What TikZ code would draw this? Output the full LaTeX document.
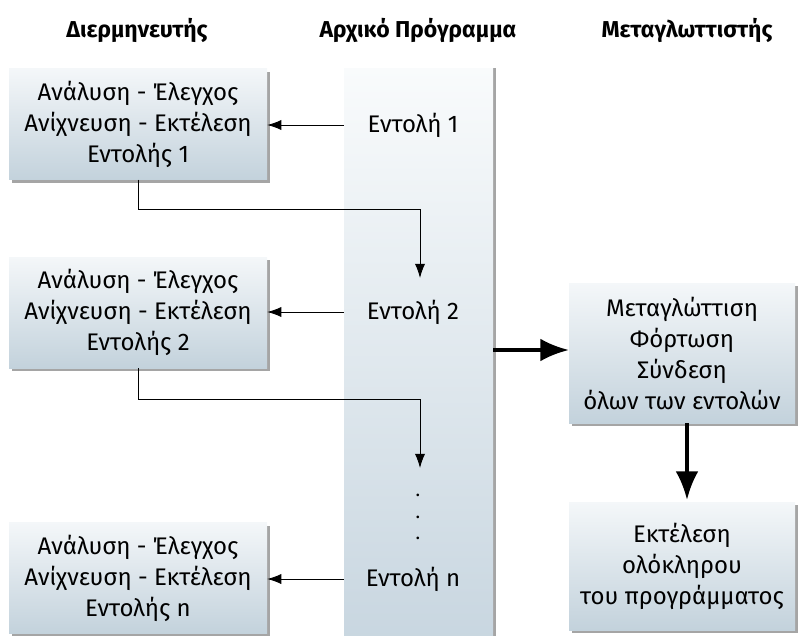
\documentclass[tikz,border=0pt]{standalone}
\usepackage{fontspec}
\setmainfont{Fira Sans}
\usepackage{tikz}
\usetikzlibrary{arrows.meta,positioning,calc,shadows}
\definecolor{boxtop}{HTML}{F4F7F9}
\definecolor{boxbot}{HTML}{C3D2DC}
\definecolor{coltop}{HTML}{F9FBFC}
\definecolor{colbot}{HTML}{C8D6E0}
\tikzset{%
  arrow/.style={-{Latex[length=5mm,width=3.6mm]}, line width=0.9pt},
  bigarrow/.style={-{Latex[length=10mm,width=8mm]}, line width=3.5pt}%
}

\begin{document}
\begin{tikzpicture}[
    x=1pt, y=-1pt,
    font=\fontsize{24}{31}\selectfont,
    title/.style={
        font=\fontsize{23}{26}\selectfont\bfseries,
        inner sep=0pt
    },
    stepbox/.style={
        rounded corners=0pt,
        align=center,
        minimum width=258pt,
        minimum height=111pt,
        inner sep=0pt,
        top color=boxtop,
        bottom color=boxbot,
        drop shadow={shadow xshift=3pt, shadow yshift=-3pt, opacity=.5, fill=black!70}
    },
    column/.style={
        minimum width=149pt,
        minimum height=575pt,
        inner sep=0pt,
        top color=coltop,
        bottom color=colbot,
        drop shadow={shadow xshift=3pt, shadow yshift=0pt, opacity=.5, fill=black!70}
    },
    cmd/.style={inner sep=2pt}
]
\useasboundingbox (0,0) rectangle (798,635);

% headings
\node[title] (tint) at (137,30) {Διερμηνευτής};
\node[title] (tprog) at (418,30) {Αρχικό Πρόγραμμα};
\node[title] (tcomp) at (687,30) {Μεταγλωττιστής};

% source program column
\node[column] (prog) at (418.5,355.5) {};
\node[cmd] (cmd1) at (413,125) {Εντολή 1};
\node[cmd] (cmd2) at (413,312) {Εντολή 2};
\node[cmd] (cmdn) at (413,579) {Εντολή n};
\node[align=center, font=\fontsize{19}{21.5}\selectfont] (dots) at (418,517) {.\\.\\.};

% interpreter steps
\node[stepbox] (int1) at (138,124) {Ανάλυση - Έλεγχος\\Ανίχνευση - Εκτέλεση\\Εντολής 1};
\node[stepbox] (int2) at (138,312.5) {Ανάλυση - Έλεγχος\\Ανίχνευση - Εκτέλεση\\Εντολής 2};
\node[stepbox] (intn) at (138,578) {Ανάλυση - Έλεγχος\\Ανίχνευση - Εκτέλεση\\Εντολής n};

% compiler
\node[stepbox, minimum width=226pt, minimum height=140pt] (comp) at (682,353)
{Μεταγλώττιση\\Φόρτωση\\Σύνδεση\\όλων των εντολών};
\node[stepbox, minimum width=226pt, minimum height=128pt] (run) at (682,566)
{Εκτέλεση\\ολόκληρου\\του προγράμματος};

\coordinate (drop1) at (420,278);
\coordinate (drop2) at (420,468);

\draw[arrow] (prog.west |- cmd1) -- (int1.east |- cmd1);
\draw[arrow] (prog.west |- cmd2) -- (int2.east |- cmd2);
\draw[arrow] (prog.west |- cmdn) -- (intn.east |- cmdn);
\draw[arrow] (int1.south) -- ++(0,30) -| (drop1);
\draw[arrow] (int2.south) -- ++(0,31) -| (drop2);
\draw[bigarrow] (prog.east |- 0,350) -- (comp.west |- 0,350);
\draw[bigarrow] (comp.south -| 687,0) -- ($(run.north -| 687,0)+(0,-2)$);

\end{tikzpicture}
\end{document}
